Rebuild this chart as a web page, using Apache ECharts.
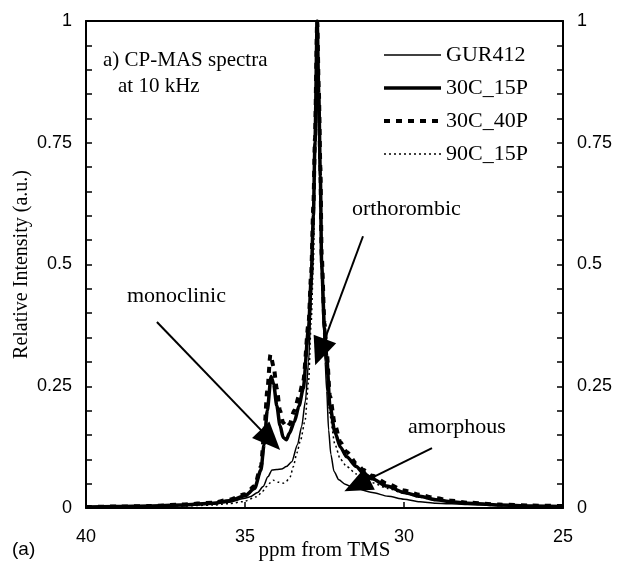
<!DOCTYPE html>
<html>
<head>
<meta charset="utf-8">
<script src="https://cdn.jsdelivr.net/npm/echarts@6/dist/echarts.min.js"></script>
<style>html,body{margin:0;padding:0;background:#fff;}#c{width:623px;height:562px;}</style>
</head>
<body>
<div id="c"></div>
<script>
// ---- data (ppm from TMS, relative intensity) ----
const gurPpm = [40, 39, 38, 37, 36, 35.5, 35.0, 34.84, 34.6, 34.43, 34.28, 34.15, 34.0, 33.85, 33.7, 33.53, 33.35, 33.22, 33.1, 33.0, 32.92, 32.85, 32.8, 32.73, 32.68, 32.63, 32.59, 32.53, 32.48, 32.43, 32.37, 32.3, 32.2, 32.05, 31.85, 31.6, 31.0, 30.5, 30.0, 29.5, 29.0, 28.0, 27.0, 26.0, 25.0];
const gurVal = [0.001, 0.002, 0.003, 0.005, 0.008, 0.012, 0.02, 0.023, 0.032, 0.044, 0.064, 0.078, 0.079, 0.08, 0.085, 0.095, 0.13, 0.167, 0.22, 0.3, 0.42, 0.55, 0.72, 1.0, 0.82, 0.6, 0.48, 0.36, 0.3, 0.24, 0.16, 0.11, 0.075, 0.058, 0.049, 0.042, 0.032, 0.024, 0.018, 0.013, 0.01, 0.007, 0.005, 0.003, 0.002];

const c15Ppm = [40, 39, 38, 37, 36, 35.5, 35.0, 34.7, 34.5, 34.4, 34.3, 34.18, 34.1, 34.0, 33.9, 33.8, 33.7, 33.6, 33.45, 33.3, 33.17, 33.0, 32.92, 32.85, 32.8, 32.73, 32.68, 32.63, 32.59, 32.5, 32.43, 32.33, 32.17, 32.0, 31.8, 31.5, 31.28, 31.0, 30.54, 30.0, 29.5, 29.0, 28.5, 28.0, 27.0, 26.0, 25.0];
const c15Val = [0.002, 0.003, 0.004, 0.006, 0.01, 0.015, 0.025, 0.04, 0.078, 0.13, 0.2, 0.27, 0.255, 0.21, 0.17, 0.145, 0.14, 0.154, 0.177, 0.21, 0.245, 0.37, 0.47, 0.6, 0.75, 1.0, 0.85, 0.68, 0.5, 0.37, 0.31, 0.21, 0.155, 0.125, 0.105, 0.085, 0.072, 0.06, 0.045, 0.032, 0.024, 0.017, 0.013, 0.01, 0.006, 0.004, 0.003];

const c40Ppm = [40, 39, 38, 37, 36, 35.5, 35.0, 34.7, 34.5, 34.4, 34.3, 34.2, 34.1, 34.0, 33.9, 33.8, 33.68, 33.6, 33.45, 33.3, 33.17, 33.0, 32.92, 32.85, 32.8, 32.73, 32.68, 32.63, 32.59, 32.5, 32.43, 32.33, 32.17, 32.0, 31.8, 31.5, 31.28, 31.0, 30.54, 30.0, 29.5, 29.0, 28.5, 28.0, 27.0, 26.0, 25.0];
const c40Val = [0.002, 0.003, 0.004, 0.007, 0.011, 0.017, 0.028, 0.045, 0.085, 0.15, 0.24, 0.315, 0.29, 0.245, 0.2, 0.175, 0.166, 0.172, 0.2, 0.23, 0.26, 0.38, 0.48, 0.62, 0.76, 1.0, 0.86, 0.7, 0.52, 0.38, 0.32, 0.23, 0.17, 0.135, 0.115, 0.092, 0.078, 0.066, 0.05, 0.036, 0.027, 0.02, 0.015, 0.011, 0.007, 0.005, 0.004];

const c90Ppm = [40, 39, 38, 37, 36, 35.5, 35.06, 34.63, 34.45, 34.32, 34.2, 34.11, 33.95, 33.8, 33.7, 33.58, 33.48, 33.37, 33.25, 33.11, 33.0, 32.92, 32.85, 32.8, 32.73, 32.68, 32.63, 32.59, 32.5, 32.43, 32.33, 32.17, 32.0, 31.8, 31.5, 31.0, 30.5, 30.0, 29.5, 29.0, 28.0, 27.0, 26.0, 25.0];
const c90Val = [0.001, 0.002, 0.003, 0.004, 0.006, 0.009, 0.013, 0.023, 0.034, 0.044, 0.052, 0.057, 0.053, 0.051, 0.055, 0.064, 0.085, 0.113, 0.14, 0.18, 0.26, 0.38, 0.5, 0.7, 1.0, 0.82, 0.62, 0.49, 0.34, 0.28, 0.19, 0.13, 0.1, 0.085, 0.07, 0.052, 0.04, 0.03, 0.022, 0.016, 0.01, 0.006, 0.004, 0.003];

const seriesNames = ['GUR412', '30C_15P', '30C_40P', '90C_15P'];
const yTicks = [0, 0.25, 0.5, 0.75, 1];
const xTicks = [40, 35, 30, 25];

// annotation arrows: [start ppm, start val, tip ppm, tip val]
const arrowMono = [37.77, 0.382, 34.2, 0.14];
const arrowOrtho = [31.29, 0.558, 32.64, 0.32];
const arrowAmor = [29.12, 0.123, 31.48, 0.047];

function pairs(xs, ys) { return xs.map((x, i) => [x, ys[i]]); }

const SERIF = '"Liberation Serif", "Times New Roman", serif';
const SANS = '"Liberation Sans", Arial, sans-serif';

const chart = echarts.init(document.getElementById('c'), null, { renderer: 'canvas' });

function yAxisCfg(pos) {
  return {
    type: 'value', position: pos, min: 0, max: 1, interval: 0.05,
    axisLine: { show: true, lineStyle: { color: '#000', width: 2 } },
    axisTick: { show: true, inside: true, length: 6, lineStyle: { color: '#000', width: 1.5 } },
    axisLabel: {
      show: true, margin: 14, color: '#000', fontFamily: SANS, fontSize: 18,
      formatter: function (v) {
        for (const t of yTicks) { if (Math.abs(v - t) < 1e-6) return String(t); }
        return '';
      }
    },
    splitLine: { show: false },
    name: pos === 'left' ? 'Relative Intensity (a.u.)' : '',
    nameLocation: 'middle', nameGap: 54, nameMoveOverlap: false,
    nameTextStyle: { fontFamily: SERIF, fontSize: 20, color: '#000' }
  };
}

const arrowLine = (a) => [{ coord: [a[0], a[1]] }, { coord: [a[2], a[3]] }];

chart.setOption({
  animation: false,
  backgroundColor: '#fff',
  grid: { left: 86, right: 60, top: 21, bottom: 54, containLabel: false, outerBoundsMode: 'none' },
  legend: {
    orient: 'vertical', left: 382, top: 44, padding: 0,
    itemWidth: 57, itemHeight: 14, itemGap: 11,
    data: seriesNames,
    itemStyle: { opacity: 0, color: 'rgba(0,0,0,0)', borderWidth: 0 },
    lineStyle: { width: 'inherit', type: 'inherit' },
    textStyle: { fontFamily: SERIF, fontSize: 22, color: '#000', padding: [0, 0, 0, 0] },
    selectedMode: false
  },
  xAxis: [{
    type: 'value', min: 25, max: 40, interval: 5, inverse: true, position: 'bottom',
    axisLine: { show: true, onZero: false, lineStyle: { color: '#000', width: 2 } },
    axisTick: { show: true, inside: true, length: 6, lineStyle: { color: '#000', width: 1.5 } },
    axisLabel: {
      margin: 20, color: '#000', fontFamily: SANS, fontSize: 18,
      formatter: function (v) { return xTicks.indexOf(v) >= 0 ? String(v) : ''; }
    },
    splitLine: { show: false },
    name: 'ppm from TMS', nameLocation: 'middle', nameGap: 32, nameMoveOverlap: false,
    nameTextStyle: { fontFamily: SERIF, fontSize: 21, color: '#000' }
  }, {
    type: 'value', min: 25, max: 40, inverse: true, position: 'top',
    axisLine: { show: true, onZero: false, lineStyle: { color: '#000', width: 2 } },
    axisTick: { show: false }, axisLabel: { show: false }, splitLine: { show: false }
  }],
  yAxis: [yAxisCfg('left'), yAxisCfg('right')],
  series: [
    {
      name: seriesNames[0], type: 'line', data: pairs(gurPpm, gurVal), showSymbol: false, symbol: 'none',
      smooth: 0.25, smoothMonotone: 'x', color: '#000', z: 3,
      lineStyle: { color: '#000', width: 1.5, type: 'solid' },
      markLine: {
        silent: true, symbol: ['none', 'triangle'], symbolSize: [24, 28], precision: 4,
        label: { show: false },
        lineStyle: { color: '#000', width: 2, type: 'solid' },
        itemStyle: { color: '#000' },
        emphasis: { disabled: true },
        data: [arrowLine(arrowMono), arrowLine(arrowOrtho), arrowLine(arrowAmor)]
      }
    },
    {
      name: seriesNames[1], type: 'line', data: pairs(c15Ppm, c15Val), showSymbol: false, symbol: 'none',
      smooth: 0.25, smoothMonotone: 'x', color: '#000', z: 4,
      lineStyle: { color: '#000', width: 3.5, type: 'solid' }
    },
    {
      name: seriesNames[2], type: 'line', data: pairs(c40Ppm, c40Val), showSymbol: false, symbol: 'none',
      smooth: 0.25, smoothMonotone: 'x', color: '#000', z: 4,
      lineStyle: { color: '#000', width: 4, type: [6, 6] }
    },
    {
      name: seriesNames[3], type: 'line', data: pairs(c90Ppm, c90Val), showSymbol: false, symbol: 'none',
      smooth: 0.25, smoothMonotone: 'x', color: '#000', z: 3,
      lineStyle: { color: '#000', width: 1.5, type: [2, 3] }
    }
  ],
  graphic: [
    { type: 'text', left: 103, top: 50, style: { text: 'a) CP-MAS spectra', font: '21px ' + SERIF, fill: '#000' } },
    { type: 'text', left: 118, top: 76, style: { text: 'at 10 kHz', font: '21px ' + SERIF, fill: '#000' } },
    { type: 'text', left: 352, top: 198, style: { text: 'orthorombic', font: '22px ' + SERIF, fill: '#000' } },
    { type: 'text', left: 127, top: 285, style: { text: 'monoclinic', font: '22px ' + SERIF, fill: '#000' } },
    { type: 'text', left: 408, top: 416, style: { text: 'amorphous', font: '22px ' + SERIF, fill: '#000' } },
    { type: 'text', left: 12, top: 540, style: { text: '(a)', font: '19px ' + SANS, fill: '#000' } }
  ]
});
</script>
</body>
</html>
